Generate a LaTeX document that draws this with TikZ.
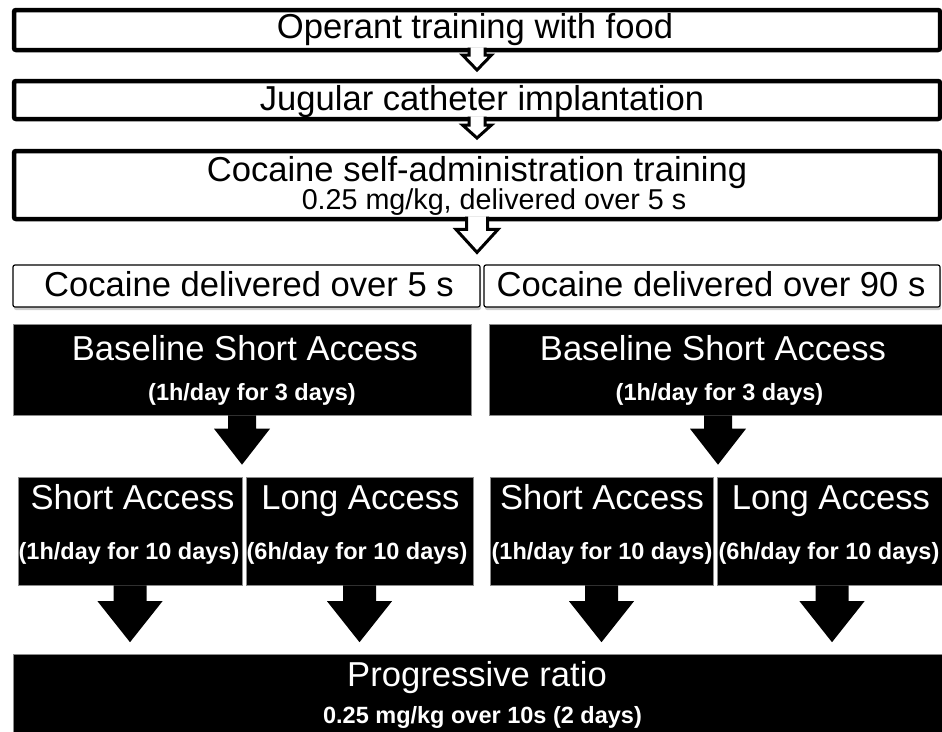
\documentclass[tikz,border=0pt]{standalone}
\usepackage{fontspec}
\setmainfont{Liberation Sans}
\usetikzlibrary{calc,shadows}

\newcommand{\bigtxt}{\fontsize{34.6pt}{40pt}\selectfont}
\newcommand{\subtxt}{\fontsize{28.7pt}{33pt}\selectfont}
\newcommand{\daytxt}{\fontsize{23.5pt}{28pt}\selectfont\bfseries}

% block arrow: style, from, to, overlap, gap, shaft half width, head half width, head length
\newcommand{\blockarrow}[8]{%
  \filldraw[#1] let \p1=(#2), \p2=(#3) in
    (\x1-#6,\y1+#4) -- (\x1-#6,\y2+#5+#8) -- (\x1-#7,\y2+#5+#8) -- (\x1,\y2+#5)
    -- (\x1+#7,\y2+#5+#8) -- (\x1+#6,\y2+#5+#8) -- (\x1+#6,\y1+#4);
}

\begin{document}
\begin{tikzpicture}[x=1pt, y=-1pt,
          stepbox/.style={draw, line width=4.5pt, rounded corners=2pt, fill=white, inner sep=0pt, outer sep=0pt},
          groupbox/.style={draw, line width=1.2pt, rounded corners=2pt, fill=white, inner sep=0pt,
                           drop shadow={shadow xshift=1pt, shadow yshift=-3pt, fill=black!40, opacity=0.5}},
          blackbox/.style={fill=black, draw=black!45, line width=0.6pt, inner sep=0pt},
          txt/.style={anchor=base, inner sep=0pt},
          wtxt/.style={txt, text=white},
          hollow/.style={fill=white, draw=black, line width=3pt, line join=miter},
          filled arrow/.style={fill=black, draw=none}]
          \useasboundingbox (0,0) rectangle (942,731);
          \clip (0,0) rectangle (942,731);
          % training steps
          \node[stepbox, minimum width=926pt, minimum height=40pt] (op) at (477,30) {};
          \node[stepbox, minimum width=926pt, minimum height=38pt] (jug) at (477,100) {};
          \node[stepbox, minimum width=926pt, minimum height=68pt] (csa) at (477,185) {};
          \node[groupbox, minimum width=467pt, minimum height=42pt] (del5) at (246.5,286) {};
          \node[groupbox, minimum width=456pt, minimum height=42pt] (del90) at (712,286) {};
          % access groups
          \node[blackbox, minimum width=458pt, minimum height=91pt] (bsa5) at (242,369.5) {};
          \node[blackbox, minimum width=458pt, minimum height=91pt] (bsa90) at (718,369.5) {};
          \node[blackbox, minimum width=224pt, minimum height=108pt] (sa5) at (130,531) {};
          \node[blackbox, minimum width=227pt, minimum height=108pt] (la5) at (359.5,531) {};
          \node[blackbox, minimum width=223pt, minimum height=108pt] (sa90) at (601.5,531) {};
          \node[blackbox, minimum width=230pt, minimum height=108pt] (la90) at (832,531) {};
          \node[blackbox, minimum width=936pt, minimum height=90pt] (pr) at (481,699.5) {};
          % arrows
          \blockarrow{hollow}{op.south}{jug.north}{2.5pt}{11pt}{8pt}{14.5pt}{15pt}
          \blockarrow{hollow}{jug.south}{csa.north}{2.5pt}{13pt}{8pt}{14.5pt}{13pt}
          \blockarrow{hollow}{csa.south}{del5.north}{2.5pt}{12pt}{10.5pt}{21pt}{23pt}
          \blockarrow{filled arrow}{bsa5.south}{sa5.north}{0pt}{12pt}{14pt}{28pt}{36pt}
          \blockarrow{filled arrow}{bsa90.south}{sa90.north}{0pt}{12pt}{14pt}{28pt}{36pt}
          \foreach \b in {sa5,la5,sa90,la90}{
              \blockarrow{filled arrow}{\b.south}{pr.north}{0pt}{12pt}{16.5pt}{32.5pt}{41pt}
          }
          % labels
          \node[txt, font=\bigtxt] (op-txt) at (475,38.5) {Operant training with food};
          \node[txt, font=\bigtxt] (jug-txt) at (482,110) {Jugular catheter implantation};
          \node[txt, font=\bigtxt] (csa-txt) at (477,181) {Cocaine self-administration training};
          \node[txt, font=\subtxt] (csa-sub) at (494,209.5) {0.25 mg/kg, delivered over 5 s};
          \node[txt, font=\bigtxt] (del5-txt) at (249,296.5) {Cocaine delivered over 5 s};
          \node[txt, font=\bigtxt] (del90-txt) at (711,296.5) {Cocaine delivered over 90 s};
          \node[wtxt, font=\bigtxt] (bsa5-txt) at (245,360) {Baseline Short Access};
          \node[wtxt, font=\daytxt] (bsa5-sub) at (252,400) {(1h/day for 3 days)};
          \node[wtxt, font=\bigtxt] (bsa90-txt) at (713,360) {Baseline Short Access};
          \node[wtxt, font=\daytxt] (bsa90-sub) at (719.5,400) {(1h/day for 3 days)};
          \node[wtxt, font=\bigtxt] (sa5-txt) at (132.5,509.5) {Short Access};
          \node[wtxt, font=\daytxt] (sa5-sub) at (129,559.5) {(1h/day for 10 days)};
          \node[wtxt, font=\bigtxt] (la5-txt) at (360.5,509.5) {Long Access};
          \node[wtxt, font=\daytxt] (la5-sub) at (357,559.5) {(6h/day for 10 days)};
          \node[wtxt, font=\bigtxt] (sa90-txt) at (602,509.5) {Short Access};
          \node[wtxt, font=\daytxt] (sa90-sub) at (602,559.5) {(1h/day for 10 days)};
          \node[wtxt, font=\bigtxt] (la90-txt) at (831,509.5) {Long Access};
          \node[wtxt, font=\daytxt] (la90-sub) at (829,559.5) {(6h/day for 10 days)};
          \node[wtxt, font=\bigtxt] (pr-txt) at (477,686.5) {Progressive ratio};
          \node[wtxt, font=\daytxt] (pr-sub) at (482.5,723) {0.25 mg/kg over 10s (2 days)};
      \end{tikzpicture}
\end{document}
